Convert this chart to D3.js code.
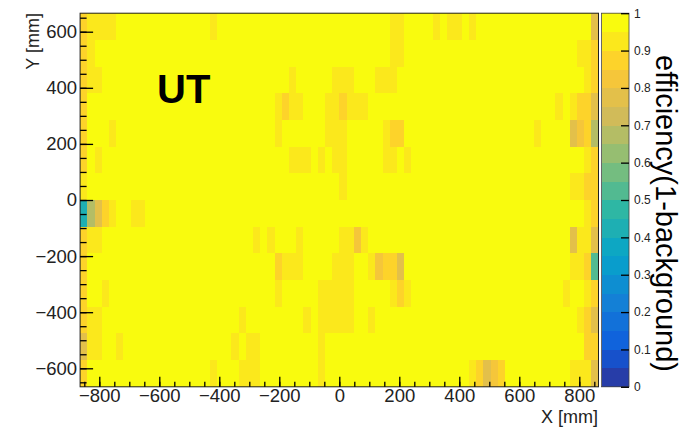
<!DOCTYPE html>
<html>
<head>
<meta charset="utf-8">
<script src="https://cdn.jsdelivr.net/npm/d3@7"></script>
<style>
  body { margin: 0; background: #fff; }
  text { font-family: "Liberation Sans", Arial, Helvetica, sans-serif; }
</style>
</head>
<body>
<svg id="chart" width="682" height="428"></svg>
<script>
// Binning of the 2D histogram (mm)
const xMin = -864, xMax = 864, nBinsX = 72;
const yMin = -666, yMax = 666, nBinsY = 14;

// Cell codes, top row first, 72 columns per row (spaces are only for reading)
const cellRows = [
  "baaaa... ........ ..a..... ........ ........ ...aa... .a.aa.a. ........ .......d",
  "ba...... ........ ........ ........ ........ ...aa... ........ ........ .....aab",
  "baa..... ........ ........ .....a.. ...aaa.. .aaa.... ........ ........ ......ab",
  "b....... ........ ........ ...abaa. ..aabaaa ........ ........ ........ ..a.abbd",
  "b...a... ........ ........ ...a.... ..aaa... ..abb... ........ .......a ....dcbf",
  "b.a..... ........ ........ .....aaa .a.aa... ..aa.a.. ........ ........ ......ab",
  "a....... ........ ........ ........ ....a... ........ ........ ........ ....aabb",
  "tfdba..a a....... ........ ........ ........ ........ ........ ........ ......ab",
  "baa..... ........ ........ a.a...a. ....aaca ........ ........ ........ ....daad",
  "b....... ........ ........ ...baaa. ...aaa.. acbbd... ........ ........ ....aabh",
  "b..a.... ........ ........ ...a.... .aaaaa.. ...aba.. ........ ........ ...a..ab",
  "baa..... ........ ......a. .......a .aaaaa.. a....... ........ ........ .....abd",
  "daa..a.. ........ .....a.a a....... .a...... ........ ........ ........ ......bb",
  "b....... ........ ..a...aa a....... .a...... ........ ......ab dcb..... ....aaad"
];

// efficiency value for each code
const codeValues = {".": 0.98, "a": 0.93, "b": 0.88, "c": 0.83, "d": 0.78, "e": 0.73, "f": 0.68, "h": 0.52, "t": 0.43};

// axis ticks
const xMajor = [-800, -600, -400, -200, 0, 200, 400, 600, 800];
const yMajor = [-600, -400, -200, 0, 200, 400, 600];
const zMajor = [0, 0.1, 0.2, 0.3, 0.4, 0.5, 0.6, 0.7, 0.8, 0.9, 1];
const nContours = 20;

// ROOT kBird palette
const birdStops = [0.0, 0.125, 0.25, 0.375, 0.5, 0.625, 0.75, 0.875, 1.0];
const birdR = [0.2082, 0.0592, 0.0780, 0.0232, 0.1802, 0.5301, 0.8186, 0.9956, 0.9764];
const birdG = [0.1664, 0.3599, 0.5041, 0.6419, 0.7178, 0.7492, 0.7328, 0.7862, 0.9832];
const birdB = [0.5293, 0.8684, 0.8385, 0.7914, 0.6425, 0.4662, 0.3499, 0.1968, 0.0539];

const birdColors = birdStops.map((s, i) => d3.rgb(birdR[i] * 255, birdG[i] * 255, birdB[i] * 255));
const bird = d3.scaleLinear().domain(birdStops).range(birdColors).interpolate(d3.interpolateRgb);

function levelColor(level) {
  const idx = Math.floor((level + 0.99) * 255 / nContours);
  return bird(idx / 254);
}
function valueColor(v) {
  const level = Math.max(0, Math.min(nContours - 1, Math.floor(v * nContours)));
  return levelColor(level);
}

const svg = d3.select("#chart");

const x = d3.scaleLinear().domain([xMin, xMax]).range([80.1, 598.5]);
const y = d3.scaleLinear().domain([yMin, yMax]).range([386.8, 13.2]);

// Build the cells
const bwX = (xMax - xMin) / nBinsX;
const bwY = (yMax - yMin) / nBinsY;
const cells = [];
cellRows.forEach((row, r) => {
  const codes = row.replace(/ /g, "");
  for (let c = 0; c < codes.length; c++) {
    cells.push({
      x0: xMin + c * bwX,
      x1: xMin + (c + 1) * bwX,
      y1: yMax - r * bwY,
      y0: yMax - (r + 1) * bwY,
      value: codeValues[codes[c]]
    });
  }
});

svg.append("g")
  .selectAll("rect")
  .data(cells)
  .enter()
  .append("rect")
  .attr("x", d => x(d.x0))
  .attr("y", d => y(d.y1))
  .attr("width", d => x(d.x1) - x(d.x0) + 0.3)
  .attr("height", d => y(d.y0) - y(d.y1) + 0.3)
  .attr("fill", d => valueColor(d.value))
  .attr("shape-rendering", "crispEdges");

// Frame
svg.append("rect")
  .attr("x", x(xMin))
  .attr("y", y(yMax))
  .attr("width", x(xMax) - x(xMin))
  .attr("height", y(yMin) - y(yMax))
  .attr("fill", "none")
  .attr("stroke", "#222")
  .attr("stroke-width", 1);

// X axis (ticks point into the frame)
const xMinor = d3.range(-850, 851, 50);
svg.append("g")
  .attr("transform", `translate(0,${y(yMin)})`)
  .call(d3.axisBottom(x).tickValues(xMajor).tickSize(-10).tickPadding(2).tickFormat(d3.format("d")));
svg.append("g")
  .attr("transform", `translate(0,${y(yMin)})`)
  .call(d3.axisBottom(x).tickValues(xMinor).tickSize(-5).tickFormat(""));

// Y axis
const yMinor = d3.range(-650, 651, 50);
svg.append("g")
  .attr("transform", `translate(${x(xMin)},0)`)
  .call(d3.axisLeft(y).tickValues(yMajor).tickSize(-13).tickPadding(3).tickFormat(d3.format("d")));
svg.append("g")
  .attr("transform", `translate(${x(xMin)},0)`)
  .call(d3.axisLeft(y).tickValues(yMinor).tickSize(-6.5).tickFormat(""));

svg.selectAll(".domain").remove();
svg.selectAll(".tick line").attr("stroke", "#000").attr("stroke-width", 1.3);
svg.selectAll(".tick text")
  .attr("font-family", "Liberation Sans, Arial, sans-serif")
  .attr("font-size", "18.5px")
  .attr("fill", "#222");

// Axis titles
svg.append("text")
  .attr("text-anchor", "end")
  .attr("x", 598)
  .attr("y", 423)
  .attr("font-size", "18px")
  .attr("fill", "#222")
  .text("X [mm]");

svg.append("text")
  .attr("text-anchor", "end")
  .attr("transform", "rotate(-90)")
  .attr("x", -13)
  .attr("y", 39)
  .attr("font-size", "18px")
  .attr("fill", "#222")
  .text("Y [mm]");

// Label in the plot
svg.append("text")
  .attr("x", 157)
  .attr("y", 103)
  .attr("font-size", "40px")
  .attr("font-weight", "bold")
  .attr("fill", "#000")
  .text("UT");

// Colour bar
const z = d3.scaleLinear().domain([0, 1]).range([y(yMin), y(yMax)]);
const barX0 = 601.5, barX1 = 629;
const levels = d3.range(nContours);
svg.append("g")
  .selectAll("rect")
  .data(levels)
  .enter()
  .append("rect")
  .attr("x", barX0)
  .attr("y", d => z((d + 1) / nContours))
  .attr("width", barX1 - barX0)
  .attr("height", d => z(d / nContours) - z((d + 1) / nContours) + 0.3)
  .attr("fill", d => levelColor(d))
  .attr("shape-rendering", "crispEdges");

svg.append("rect")
  .attr("x", barX0)
  .attr("y", z(1))
  .attr("width", barX1 - barX0)
  .attr("height", z(0) - z(1))
  .attr("fill", "none")
  .attr("stroke", "#444")
  .attr("stroke-width", 0.8);

svg.append("g")
  .attr("transform", `translate(${barX1},0)`)
  .call(d3.axisRight(z).tickValues(zMajor).tickSize(-8).tickPadding(5).tickFormat(d => d === 0 || d === 1 ? d3.format("d")(d) : d3.format(".1f")(d)))
  .call(g => g.select(".domain").remove())
  .call(g => g.selectAll(".tick line").attr("stroke", "#000").attr("stroke-width", 1.3))
  .call(g => g.selectAll(".tick text")
    .attr("font-family", "Liberation Sans, Arial, sans-serif")
    .attr("font-size", "12px")
    .attr("fill", "#222"));

svg.append("text")
  .attr("transform", "rotate(90)")
  .attr("x", 55)
  .attr("y", -656)
  .attr("font-size", "29px")
  .attr("fill", "#000")
  .text("efficiency(1-background)");
</script>
</body>
</html>
